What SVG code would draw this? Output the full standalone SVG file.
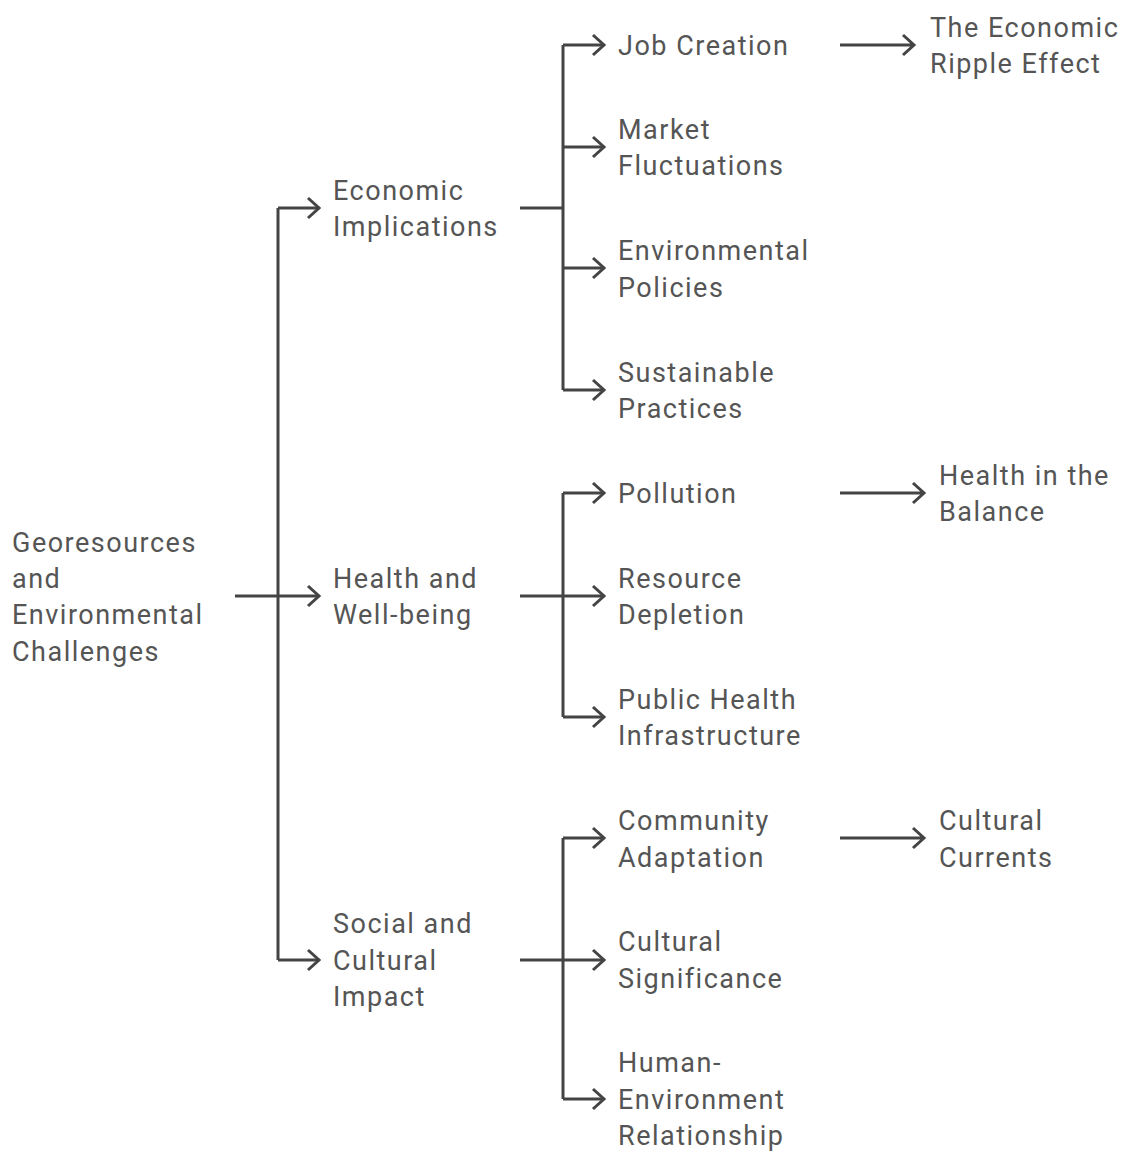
<svg xmlns="http://www.w3.org/2000/svg" width="1131" height="1151" viewBox="0 0 1131 1151">
<style>
text{font-family:Roboto,"Liberation Sans",sans-serif;font-size:27px;letter-spacing:1.5px;fill:#555555}
.c path{fill:none;stroke:#444444;stroke-width:3;stroke-linejoin:miter}
</style>
<rect width="1131" height="1151" fill="#ffffff"/>
<g class="c" id="connectors">
<path d="M235 596H318M278 208V960M278 208H318M278 960H318"/>
<path d="M308 198L319 208L308 218M308 586L319 596L308 606M308 950L319 960L308 970"/>
<path d="M520 208H563M563 45V390M563 45H603M563 147H603M563 268H603M563 390H603"/>
<path d="M593 35L604 45L593 55M593 137L604 147L593 157M593 258L604 268L593 278M593 380L604 390L593 400"/>
<path d="M520 596H603M563 493V717M563 493H603M563 717H603"/>
<path d="M593 483L604 493L593 503M593 586L604 596L593 606M593 707L604 717L593 727"/>
<path d="M520 960H603M563 838V1099M563 838H603M563 1099H603"/>
<path d="M593 828L604 838L593 848M593 950L604 960L593 970M593 1089L604 1099L593 1109"/>
<path d="M840 45H913M903 35L914 45L903 55"/>
<path d="M840 493H923M913 483L924 493L913 503"/>
<path d="M840 838H923M913 828L924 838L913 848"/>
</g>
<g id="root"><text x="12" y="552">Georesources</text><text x="12" y="588">and</text><text x="12" y="624">Environmental</text><text x="12" y="661">Challenges</text></g>
<g id="econ"><text x="333" y="200">Economic</text><text x="333" y="236">Implications</text></g>
<g id="health"><text x="333" y="588">Health and</text><text x="333" y="624">Well-being</text></g>
<g id="social"><text x="333" y="933">Social and</text><text x="333" y="970">Cultural</text><text x="333" y="1006">Impact</text></g>
<g id="job"><text x="618" y="55">Job Creation</text></g>
<g id="market"><text x="618" y="139">Market</text><text x="618" y="175">Fluctuations</text></g>
<g id="envpol"><text x="618" y="260">Environmental</text><text x="618" y="297">Policies</text></g>
<g id="sust"><text x="618" y="382">Sustainable</text><text x="618" y="418">Practices</text></g>
<g id="pollution"><text x="618" y="503">Pollution</text></g>
<g id="resource"><text x="618" y="588">Resource</text><text x="618" y="624">Depletion</text></g>
<g id="publichealth"><text x="618" y="709">Public Health</text><text x="618" y="745">Infrastructure</text></g>
<g id="community"><text x="618" y="830">Community</text><text x="618" y="867">Adaptation</text></g>
<g id="cultsig"><text x="618" y="951">Cultural</text><text x="618" y="988">Significance</text></g>
<g id="human"><text x="618" y="1072">Human-</text><text x="618" y="1109">Environment</text><text x="618" y="1145">Relationship</text></g>
<g id="ripple"><text x="930" y="37">The Economic</text><text x="930" y="73">Ripple Effect</text></g>
<g id="balance"><text x="939" y="485">Health in the</text><text x="939" y="521">Balance</text></g>
<g id="currents"><text x="939" y="830">Cultural</text><text x="939" y="867">Currents</text></g>
</svg>
